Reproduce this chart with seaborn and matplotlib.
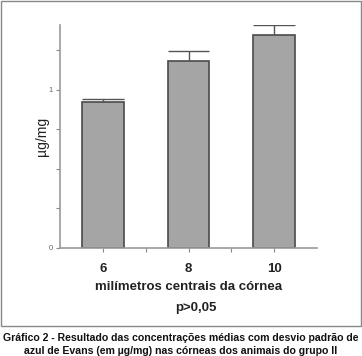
import matplotlib
matplotlib.use("Agg")
import matplotlib.pyplot as plt
import seaborn as sns
import numpy as np
from matplotlib.patches import Rectangle

categories = ["6", "8", "10"]
means = [0.926, 1.184, 1.344]
sd = [0.015, 0.061, 0.063]
y_ticks = [0, 1]
y_minor = [0.25, 0.5, 0.75, 1.25]

sns.set_theme(style="white")
plt.rcParams['font.family'] = ['Liberation Sans', 'DejaVu Sans']

W, H = 362, 356
fig = plt.figure(figsize=(W / 100, H / 100), dpi=100)
ax = fig.add_axes([60 / W, (H - 248) / H, (317 - 60) / W, (248 - 25) / H])

bar_w = 0.49
sns.barplot(x=categories, y=means, color="#a5a5a5", edgecolor="#4a4a4a",
            linewidth=1.2, width=bar_w, saturation=1, ax=ax)
xs = np.arange(len(categories))
tops = np.array(means) + np.array(sd)
ax.vlines(xs, means, tops, color="#555555", linewidth=1.0)
ax.hlines(tops, xs - bar_w / 2, xs + bar_w / 2, color="#555555", linewidth=1.0)

ax.set_xlim(-0.5, 2.5)
ax.set_ylim(0, 1.41)
ax.set_yticks(y_ticks)
ax.set_yticklabels([str(t) for t in y_ticks], fontsize=5.5, color="#666666")
ax.set_yticks(y_minor, minor=True)
ax.set_xticks(xs)
ax.set_xticklabels(categories, fontsize=9.5, fontweight="bold", color="#222222")
ax.set_xticks([0.5, 1.5], minor=True)
ax.tick_params(axis="both", which="both", direction="out", length=3,
               width=0.8, color="#888888", bottom=True, left=True)
ax.tick_params(axis="x", which="major", pad=8)
ax.tick_params(axis="y", which="major", pad=2)
for s in ["top", "right"]:
    ax.spines[s].set_visible(False)
for s in ["left", "bottom"]:
    ax.spines[s].set_color("#999999")
    ax.spines[s].set_linewidth(1.2)

ax.set_ylabel("µg/mg", fontsize=10, color="#222222", labelpad=0)
ax.set_xlabel("milímetros centrais da córnea", fontsize=9.5,
              fontweight="bold", color="#222222", labelpad=4)

fig.text(196 / W, 1 - 308 / H, "p>0,05", ha="center", va="center",
         fontsize=9.5, fontweight="bold", color="#222222")

fig.patches.append(Rectangle((1 / W, 1 - 326 / H), 360 / W, 325 / H,
                             transform=fig.transFigure, fill=False,
                             edgecolor="#888888", linewidth=1.0))

fig.text(181 / W, 1 - 338 / H,
         "Gráfico 2 - Resultado das concentrações médias com desvio padrão de",
         ha="center", va="center", fontsize=7.6, fontweight="bold", color="#111111")
fig.text(181 / W, 1 - 351 / H,
         "azul de Evans (em µg/mg) nas córneas dos animais do grupo II",
         ha="center", va="center", fontsize=7.6, fontweight="bold", color="#111111")

fig.savefig("out.png", dpi=100)
